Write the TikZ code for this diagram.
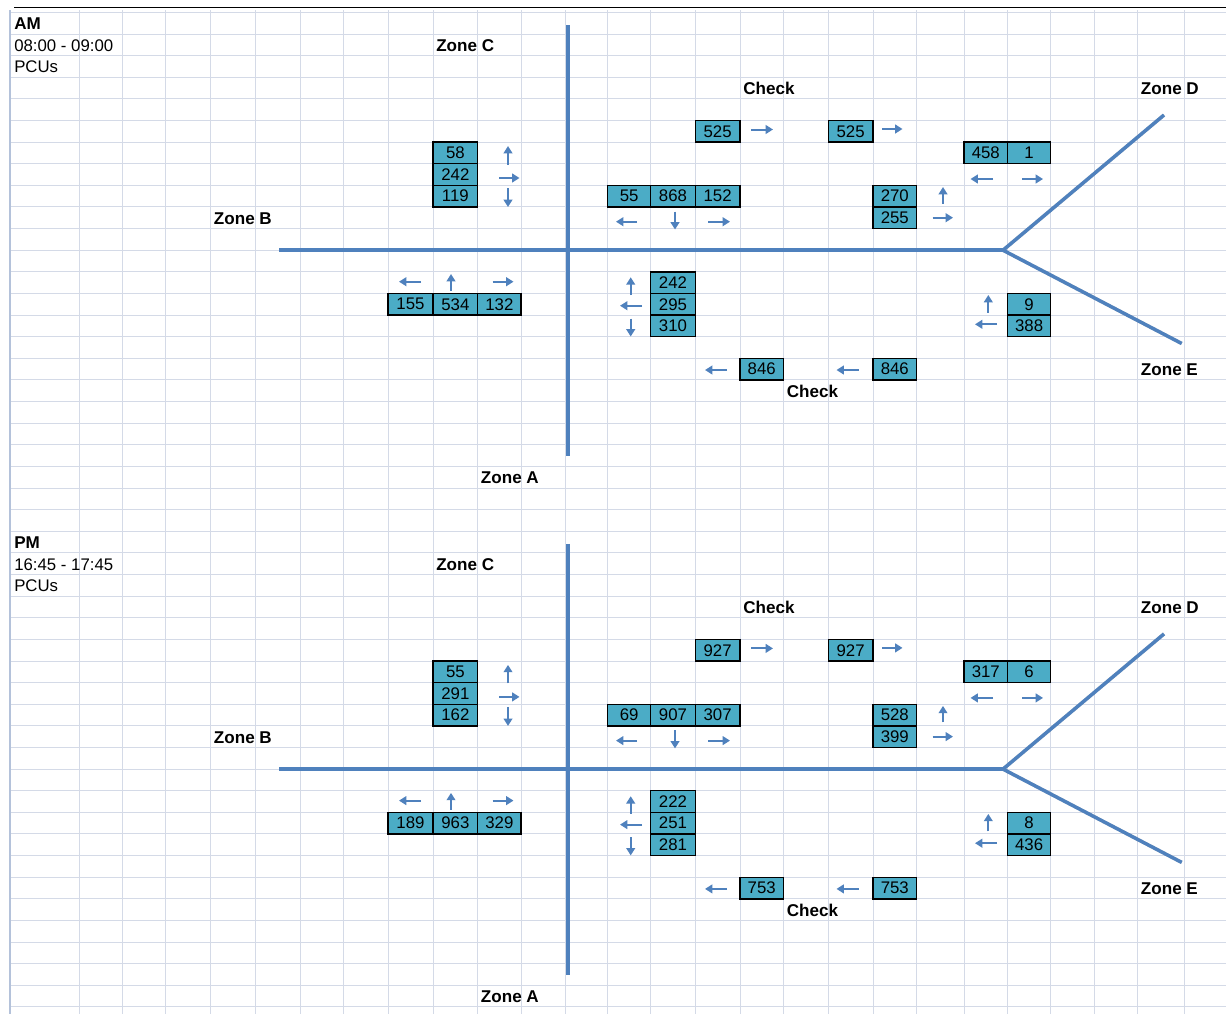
\documentclass[tikz,border=0pt]{standalone}
\usepackage{fontspec}
\setmainfont{Liberation Sans}
\usetikzlibrary{arrows.meta}
\definecolor{gridc}{HTML}{D4DAE7}
\definecolor{borderc}{HTML}{B4C2DA}
\definecolor{boxc}{HTML}{4BACC6}
\definecolor{roadc}{HTML}{4F81BD}
\tikzset{
  numbox/.style={draw=black, line width=1.1pt, fill=boxc, inner sep=0pt,
    minimum height={21.62*0.75pt}, font=\fontsize{12.6}{14}\selectfont},
  lbltext/.style={anchor=base west, inner sep=0pt, font=\fontsize{12.6}{14}\selectfont},
  lblbold/.style={lbltext, font=\fontsize{12.8}{14}\selectfont\bfseries},
  road/.style={draw=roadc, line width=2.6pt, line cap=butt, line join=round},
  roadshadow/.style={draw=black, opacity=0.18, line width=2.6pt},
  arr/.style={draw=roadc, line width=1.5pt, -{Triangle[length=5.5pt,width=6.5pt]}},
  gridline/.style={draw=gridc, line width=0.75pt}
}
\newcommand\numcell[5]{\node[numbox, minimum width={(#3-#2)*0.75pt}] (#1) at ({(#2+#3)/2},{12.4+21.62*(#4+0.5)}) {#5};}
\newcommand\lbl[5][lbltext]{\node[#1] (#2) at ({#3+3},{12.4+21.62*(#4+0.5)+6.4}) {#5};}
\newcommand\blockcommon{%
  \coordinate (vt) at (568,25);
  \coordinate (vb) at (568,456);
  \coordinate (hw) at (279,250.2);
  \coordinate (jn) at (1003,250.2);
  \coordinate (zd) at (1164,115);
  \coordinate (ze) at (1181.7,343.5);
  \begin{scope}[shift={(1.2,2)}]
    \draw[roadshadow] (vt) -- (vb);
    \draw[roadshadow] (hw) -- (jn);
    \draw[roadshadow] (zd) -- (jn) -- (ze);
  \end{scope}
  \draw[road] (vt) -- (vb);
  \draw[road] (hw) -- (jn);
  \draw[road] (zd) -- (jn) -- (ze);
  \lbl[lblbold]{zc}{433}{1}{Zone C}
  \lbl[lblbold]{chk1}{740}{3}{Check}
  \lbl[lblbold]{zdl}{1137.7}{3}{Zone D}
  \lbl[lblbold]{zb}{210.7}{9}{Zone B}
  \lbl[lblbold]{zel}{1137.7}{16}{Zone E}
  \lbl[lblbold]{chk2}{783.5}{17}{Check}
  \lbl[lblbold]{za}{477.7}{21}{Zone A}
  % arrows
  \draw[arr] (751,129.5) -- (773,129.5);
  \draw[arr] (882,129) -- (902.5,129);
  \draw[arr] (508,164.5) -- (508,146);
  \draw[arr] (499,178) -- (519.5,178);
  \draw[arr] (508,188) -- (508,207);
  \draw[arr] (637,221.7) -- (616,221.7);
  \draw[arr] (675,211.5) -- (675,229.5);
  \draw[arr] (708,221.7) -- (730,221.7);
  \draw[arr] (993,179) -- (970.5,179);
  \draw[arr] (1022,179) -- (1043,179);
  \draw[arr] (943,203.5) -- (943,187);
  \draw[arr] (932.5,217.7) -- (953,217.7);
  \draw[arr] (421,281.7) -- (399,281.7);
  \draw[arr] (451,291) -- (451,274);
  \draw[arr] (492.5,281.7) -- (513.5,281.7);
  \draw[arr] (630.7,295) -- (630.7,277.3);
  \draw[arr] (642,305.7) -- (620,305.7);
  \draw[arr] (630.7,318.5) -- (630.7,336.5);
  \draw[arr] (988.3,312.5) -- (988.3,295);
  \draw[arr] (997,324.3) -- (975,324.3);
  \draw[arr] (727,370) -- (705,370);
  \draw[arr] (858.5,370) -- (836.5,370);
}
\begin{document}
\begin{tikzpicture}[x=0.75pt, y=-0.75pt]
\useasboundingbox (0,0) rectangle (1226,1014);
\fill[white] (0,0) rectangle (1226,1014);
% grid
\foreach \r in {0,...,46} {
  \draw[gridline] (10,{12.4+21.62*\r}) -- (1226,{12.4+21.62*\r});
}
\foreach \c in {79,122.3,165.7,210.7,255.7,300,343.3,388,433,477.7,521,565,607.5,650.7,695.3,740,783.5,828.3,873,916.5,964,1007.5,1050.7,1094.3,1137.7,1184.3} {
  \draw[gridline] (\c,10) -- (\c,1014);
}
\draw[draw=borderc, line width=1pt] (10,10) -- (10,1014);
\draw[black, line width=1.2pt] (14,7.3) -- (1226,7.3);

% ---------------- AM block
\begin{scope}[name prefix=am-]
  \lbl[lblbold]{title}{11}{0}{AM}
  \lbl{time}{11}{1}{08:00 - 09:00}
  \lbl{unit}{11}{2}{PCUs}
  \blockcommon
  \numcell{c1}{695.3}{740}{5}{525}
  \numcell{c2}{828.3}{873}{5}{525}
  \numcell{d1}{964}{1007.5}{6}{458}
  \numcell{d2}{1007.5}{1050.7}{6}{1}
  \numcell{n1}{433}{477.7}{6}{58}
  \numcell{n2}{433}{477.7}{7}{242}
  \numcell{n3}{433}{477.7}{8}{119}
  \numcell{m1}{607.5}{650.7}{8}{55}
  \numcell{m2}{650.7}{695.3}{8}{868}
  \numcell{m3}{695.3}{740}{8}{152}
  \numcell{e1}{873}{916.5}{8}{270}
  \numcell{e2}{873}{916.5}{9}{255}
  \numcell{s1}{650.7}{695.3}{12}{242}
  \numcell{s2}{650.7}{695.3}{13}{295}
  \numcell{s3}{650.7}{695.3}{14}{310}
  \numcell{w1}{388}{433}{13}{155}
  \numcell{w2}{433}{477.7}{13}{534}
  \numcell{w3}{477.7}{521}{13}{132}
  \numcell{f1}{1007.5}{1050.7}{13}{9}
  \numcell{f2}{1007.5}{1050.7}{14}{388}
  \numcell{k1}{740}{783.5}{16}{846}
  \numcell{k2}{873}{916.5}{16}{846}
\end{scope}

% ---------------- PM block
\begin{scope}[shift={(0,518.9)}, name prefix=pm-]
  \lbl[lblbold]{title}{11}{0}{PM}
  \lbl{time}{11}{1}{16:45 - 17:45}
  \lbl{unit}{11}{2}{PCUs}
  \blockcommon
  \numcell{c1}{695.3}{740}{5}{927}
  \numcell{c2}{828.3}{873}{5}{927}
  \numcell{d1}{964}{1007.5}{6}{317}
  \numcell{d2}{1007.5}{1050.7}{6}{6}
  \numcell{n1}{433}{477.7}{6}{55}
  \numcell{n2}{433}{477.7}{7}{291}
  \numcell{n3}{433}{477.7}{8}{162}
  \numcell{m1}{607.5}{650.7}{8}{69}
  \numcell{m2}{650.7}{695.3}{8}{907}
  \numcell{m3}{695.3}{740}{8}{307}
  \numcell{e1}{873}{916.5}{8}{528}
  \numcell{e2}{873}{916.5}{9}{399}
  \numcell{s1}{650.7}{695.3}{12}{222}
  \numcell{s2}{650.7}{695.3}{13}{251}
  \numcell{s3}{650.7}{695.3}{14}{281}
  \numcell{w1}{388}{433}{13}{189}
  \numcell{w2}{433}{477.7}{13}{963}
  \numcell{w3}{477.7}{521}{13}{329}
  \numcell{f1}{1007.5}{1050.7}{13}{8}
  \numcell{f2}{1007.5}{1050.7}{14}{436}
  \numcell{k1}{740}{783.5}{16}{753}
  \numcell{k2}{873}{916.5}{16}{753}
\end{scope}
\end{tikzpicture}
\end{document}
